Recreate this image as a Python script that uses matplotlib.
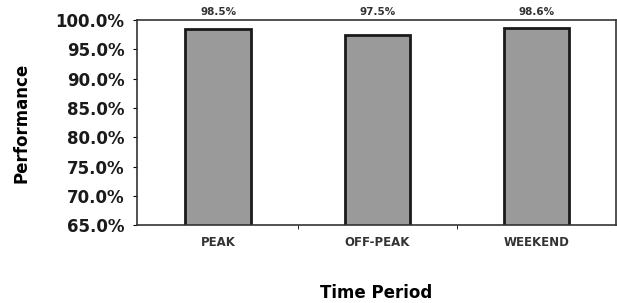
import numpy as np
import matplotlib.pyplot as plt
from matplotlib.ticker import PercentFormatter, FixedLocator

plt.rcParams['font.family'] = ['DejaVu Sans']
plt.rcParams['font.weight'] = 'bold'

periods = ['PEAK', 'OFF-PEAK', 'WEEKEND']
performance = [98.5, 97.5, 98.6]
labels = ['98.5%', '97.5%', '98.6%']

fig = plt.figure(figsize=(6.17, 3.03), dpi=100)
ax = fig.add_axes([0.222, 0.257, 0.776, 0.677])

x = np.arange(len(periods))
bars = ax.bar(x, performance, width=0.41, color='#9a9a9a',
              edgecolor='#1a1a1a', linewidth=2)

for b, lab in zip(bars, labels):
    ax.text(b.get_x() + b.get_width() / 2, 100.5, lab, ha='center', va='bottom',
            fontsize=7.5, fontweight='bold', color='#333333')

ax.set_ylim(65, 100)
ax.set_yticks(np.arange(65, 100.1, 5))
ax.yaxis.set_major_formatter(PercentFormatter(decimals=1))
ax.set_xlim(-0.51, 2.5)
ax.set_xticks(x)
ax.set_xticklabels(periods, fontsize=8.5, fontweight='bold', color='#333333')
ax.xaxis.set_minor_locator(FixedLocator([0.5, 1.5]))
ax.tick_params(axis='x', which='major', length=0, pad=8)
ax.tick_params(axis='x', which='minor', length=3, direction='out')
ax.tick_params(axis='y', labelsize=12, length=3, pad=6, labelcolor='#1a1a1a')
for t in ax.get_yticklabels():
    t.set_fontweight('bold')

ax.set_ylabel('Performance', fontsize=12, fontweight='bold')
ax.yaxis.set_label_coords(-0.223, 0.5)
ax.set_xlabel('Time Period', fontsize=12, fontweight='bold')
ax.xaxis.set_label_coords(0.5, -0.285)

for s in ax.spines.values():
    s.set_color('#333333')
    s.set_linewidth(1.2)

fig.savefig('out.png', dpi=100)
